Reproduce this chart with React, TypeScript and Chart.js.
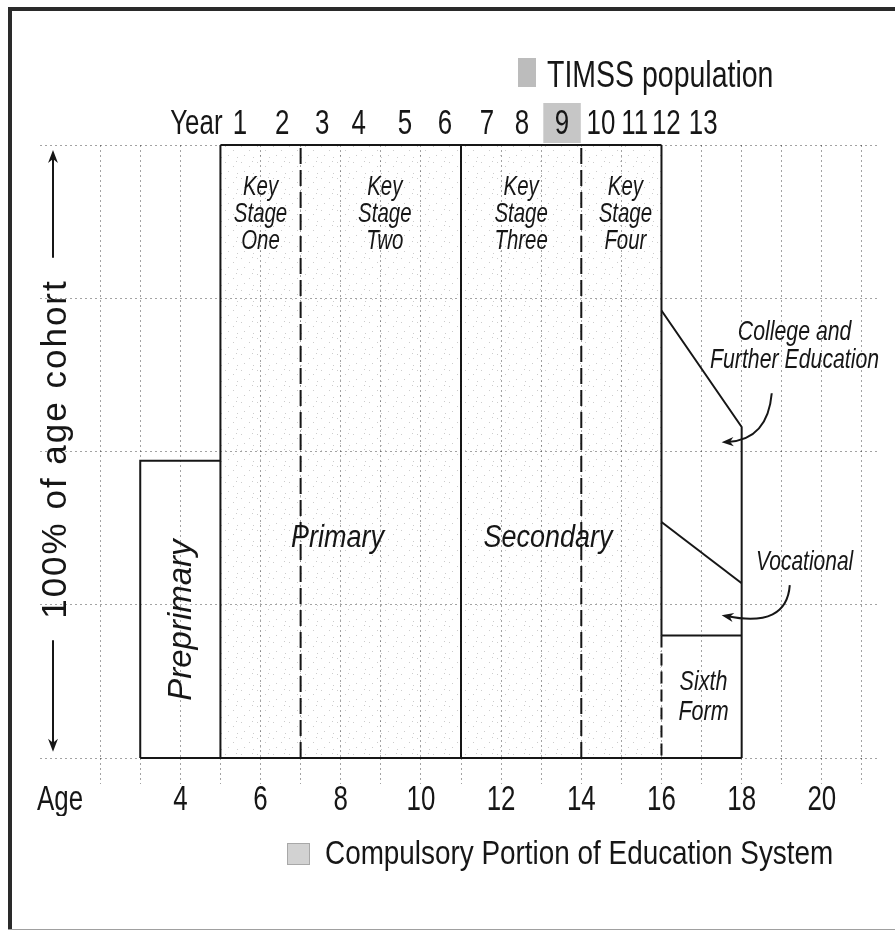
import React, { useEffect, useRef } from 'react';
import { Chart, registerables } from 'chart.js';

Chart.register(...registerables);

// ---------- data ----------
const AGE_TICKS = [1, 2, 3, 4, 5, 6, 7, 8, 9, 10, 11, 12, 13, 14, 15, 16, 17, 18, 19, 20, 21];
const AGE_LABELS = ['Age', '', '', '4', '', '6', '', '8', '', '10', '', '12', '', '14', '', '16', '', '18', '', '20', ''];
const YEAR_LABELS = ['Year', '1', '2', '3', '4', '5', '6', '7', '8', '9', '10', '11', '12', '13'];
const YEAR_AGES = [4.4, 5.49, 6.54, 7.54, 8.45, 9.6, 10.6, 11.65, 12.52, 13.52, 14.49, 15.33, 16.12, 17.04];
const TIMSS_YEAR = '9';

const PREPRIMARY_AGES = [3, 5];
const PREPRIMARY_SHARE = 48.5;
const COMPULSORY_AGES = [5, 16];
const SOLID_BOUNDARY_AGES = [5, 11];
const DASHED_BOUNDARY_AGES = [7, 14];
const POST16_AGES = [16, 18];
const COLLEGE_TOP = [73, 54];
const VOCATIONAL_TOP = [38.5, 28.5];
const SIXTH_FORM_TOP = [20, 20];

const KEY_STAGE_NAMES = ['One', 'Two', 'Three', 'Four'];
const KEY_STAGE_LABEL_AGES = [6, 9.1, 12.5, 15.1];
const SECTOR_NAMES = ['Primary', 'Secondary'];
const SECTOR_LABEL_AGES = [7.92, 13.17];

// ---------- styles ----------
const INK = '#161616';
const GRID = 'rgba(0,0,0,0.36)';
const SANS = "'Liberation Sans', Arial, Helvetica, sans-serif";
const TICK_CONDENSE = 0.74;

function makeStipple(): CanvasPattern | string {
  const c = document.createElement('canvas');
  c.width = 16;
  c.height = 16;
  const g = c.getContext('2d');
  if (!g) return 'rgba(0,0,0,0.03)';
  g.fillStyle = 'rgba(0,0,0,0.2)';
  [[1, 2], [9, 6], [4, 11], [13, 13], [12, 1]].forEach(([a, b]) => g.fillRect(a, b, 1, 1));
  const p = g.createPattern(c, 'repeat');
  return p || 'rgba(0,0,0,0.03)';
}

function arrowHead(ctx: CanvasRenderingContext2D, x: number, y: number, angle: number, size = 12) {
  ctx.save();
  ctx.translate(x, y);
  ctx.rotate(angle);
  ctx.beginPath();
  ctx.moveTo(0, 0);
  ctx.lineTo(-size, -size * 0.38);
  ctx.lineTo(-size * 0.7, 0);
  ctx.lineTo(-size, size * 0.38);
  ctx.closePath();
  ctx.fill();
  ctx.restore();
}

// condensed text: draw at a fraction of natural width (mimics Helvetica Condensed)
function ctext(ctx: CanvasRenderingContext2D, t: string, x: number, y: number, f: number) {
  ctx.fillText(t, x, y, ctx.measureText(t).width * f);
}

const decorPlugin = {
  id: 'decor',
  beforeDraw(chart: any) {
    const { ctx, width, height } = chart;
    ctx.save();
    ctx.fillStyle = '#ffffff';
    ctx.fillRect(0, 0, width, height);
    ctx.fillStyle = '#2a2a2a';
    ctx.fillRect(8, 7, width - 8, 4);
    ctx.fillRect(8, 7, 4, height - 9);
    ctx.fillStyle = '#a0a0a0';
    ctx.fillRect(8, height - 3, width - 8, 1);
    ctx.restore();
  },
  afterDraw(chart: any) {
    const { ctx, chartArea } = chart;
    const xs = chart.scales.x;
    const ys = chart.scales.y;
    const px = (a: number) => xs.getPixelForValue(a);
    const py = (p: number) => ys.getPixelForValue(p);
    ctx.save();
    ctx.fillStyle = INK;
    ctx.strokeStyle = INK;
    ctx.textAlign = 'center';
    ctx.textBaseline = 'alphabetic';

    // Key stage labels
    ctx.font = `italic 28px ${SANS}`;
    KEY_STAGE_NAMES.forEach((name, i) => {
      const cx = px(KEY_STAGE_LABEL_AGES[i]);
      const base = py(91.8);
      ['Key', 'Stage', name].forEach((t, j) => ctext(ctx, t, cx, base + j * 27, 0.73));
    });

    // Primary / Secondary
    ctx.font = `italic 31px ${SANS}`;
    SECTOR_NAMES.forEach((name, i) => ctext(ctx, name, px(SECTOR_LABEL_AGES[i]), py(34.4), 0.87));

    // Post-16 labels
    ctx.font = `italic 28px ${SANS}`;
    ctext(ctx, 'College and', px(19.32), py(68.2), 0.76);
    ctext(ctx, 'Further Education', px(19.32), py(68.2) + 28, 0.76);
    ctext(ctx, 'Vocational', px(19.57), py(30.7), 0.75);
    ctext(ctx, 'Sixth', px(17.05), py(11.1), 0.77);
    ctext(ctx, 'Form', px(17.05), py(11.1) + 30, 0.77);

    // Preprimary (rotated)
    ctx.save();
    ctx.translate(px(4) + 11, py(22.5));
    ctx.rotate(-Math.PI / 2);
    ctx.font = `italic 33px ${SANS}`;
    ctext(ctx, 'Preprimary', 0, 0, 1);
    ctx.restore();

    // Y-axis label with arrows
    const ax = chartArea.left + 13;
    ctx.save();
    ctx.translate(chartArea.left + 26, (py(81.6) + py(19.2)) / 2);
    ctx.rotate(-Math.PI / 2);
    ctx.font = `35px ${SANS}`;
    try { (ctx as any).letterSpacing = '2px'; } catch (e) { /* ignore */ }
    ctext(ctx, '100% of age cohort', 0, 0, 1);
    try { (ctx as any).letterSpacing = '0px'; } catch (e) { /* ignore */ }
    ctx.restore();
    ctx.lineWidth = 2;
    ctx.beginPath();
    ctx.moveTo(ax, py(81.6));
    ctx.lineTo(ax, py(99.2) + 6);
    ctx.moveTo(ax, py(19.2));
    ctx.lineTo(ax, py(1) - 6);
    ctx.stroke();
    arrowHead(ctx, ax, py(99.2), -Math.PI / 2, 13);
    arrowHead(ctx, ax, py(1), Math.PI / 2, 13);

    // Curved pointer arrows
    const curves = [
      [[18.75, 59.5], [18.65, 51.9], [17.5, 51.5]],
      [[19.2, 28.2], [19.12, 21.2], [17.5, 23.3]],
    ];
    ctx.lineWidth = 2;
    curves.forEach(([s, c, e]) => {
      const sx = px(s[0]), sy = py(s[1]);
      const cx = px(c[0]), cy = py(c[1]);
      const ex = px(e[0]), ey = py(e[1]);
      const ang = Math.atan2(ey - cy, ex - cx);
      ctx.beginPath();
      ctx.moveTo(sx, sy);
      ctx.quadraticCurveTo(cx, cy, ex - Math.cos(ang) * 6, ey - Math.sin(ang) * 6);
      ctx.stroke();
      arrowHead(ctx, ex, ey, ang, 12);
    });

    // Legends
    ctx.textAlign = 'left';
    ctx.fillStyle = '#bcbcbc';
    ctx.fillRect(518, 58, 18, 29);
    ctx.fillStyle = INK;
    ctx.font = `37px ${SANS}`;
    ctext(ctx, 'TIMSS population', 547, 87, 0.77);

    ctx.fillStyle = '#d2d2d2';
    ctx.fillRect(287, 843, 23, 22);
    ctx.strokeStyle = '#a8a8a8';
    ctx.lineWidth = 1;
    ctx.strokeRect(287.5, 843.5, 22, 21);
    ctx.fillStyle = INK;
    ctx.font = `34px ${SANS}`;
    ctext(ctx, 'Compulsory Portion of Education System', 325, 864, 0.82);
    ctx.restore();
  },
};

function seg(ages: number[], vals: number[]) {
  return ages.map((a, i) => ({ x: a, y: vals[i] }));
}

export default function App() {
  const ref = useRef<HTMLCanvasElement | null>(null);

  useEffect(() => {
    const canvas = ref.current;
    if (!canvas) return;
    const c2d = canvas.getContext('2d') as any;
    if (c2d && !c2d.__condensed) {
      const orig = CanvasRenderingContext2D.prototype.fillText;
      c2d.fillText = function (t: string, x: number, y: number, mw?: number) {
        const w = mw === undefined ? this.measureText(t).width * TICK_CONDENSE : mw;
        orig.call(this, t, x, y, Math.max(w, 0.01));
      };
      c2d.__condensed = true;
    }
    const stipple = makeStipple();
    const line = (data: { x: number; y: number }[], dash: number[] = [], extra: any = {}) => ({
      data,
      showLine: true,
      pointRadius: 0,
      borderColor: INK,
      borderWidth: 2,
      borderDash: dash,
      fill: false,
      clip: false,
      tension: 0,
      ...extra,
    });

    const datasets: any[] = [
      line(seg(COMPULSORY_AGES, [100, 100]), [], { fill: 'origin', backgroundColor: stipple }),
      line([
        { x: PREPRIMARY_AGES[0], y: 0 },
        { x: PREPRIMARY_AGES[0], y: PREPRIMARY_SHARE },
        { x: PREPRIMARY_AGES[1], y: PREPRIMARY_SHARE },
      ]),
      ...SOLID_BOUNDARY_AGES.map((a) => line(seg([a, a], [0, 100]))),
      ...DASHED_BOUNDARY_AGES.map((a) => line(seg([a, a], [0, 100]), [16, 6])),
      line(seg([POST16_AGES[0], POST16_AGES[0]], [100, SIXTH_FORM_TOP[0]])),
      line(seg([POST16_AGES[0], POST16_AGES[0]], [SIXTH_FORM_TOP[0], 0]), [12, 6]),
      line(seg([PREPRIMARY_AGES[0], POST16_AGES[1]], [0, 0])),
      line([...seg(POST16_AGES, COLLEGE_TOP), { x: POST16_AGES[1], y: 0 }]),
      line(seg(POST16_AGES, VOCATIONAL_TOP)),
      line(seg(POST16_AGES, SIXTH_FORM_TOP)),
    ];

    const tickColor = (c: any) => (c.tick && c.tick.value >= 2 ? GRID : 'rgba(0,0,0,0)');

    const chart = new Chart(canvas, {
      type: 'scatter',
      data: { datasets },
      plugins: [decorPlugin],
      options: {
        responsive: false,
        animation: false,
        events: [],
        layout: { padding: { left: 40, right: 15, top: 103, bottom: 116 } },
        plugins: { legend: { display: false }, tooltip: { enabled: false } },
        scales: {
          x: {
            type: 'linear',
            position: 'bottom',
            min: 0.5,
            max: 21.45,
            afterBuildTicks: (s: any) => {
              s.ticks = AGE_TICKS.map((v) => ({ value: v }));
            },
            ticks: {
              autoSkip: false,
              maxRotation: 0,
              padding: -5,
              color: INK,
              font: { family: SANS, size: 35 },
              callback: (v: any) => {
                const i = AGE_TICKS.indexOf(Number(v));
                return i >= 0 ? AGE_LABELS[i] : '';
              },
            },
            grid: { color: tickColor, tickColor: tickColor, tickLength: 26, lineWidth: 1, tickBorderDash: [2, 3] },
            border: { display: false, dash: [2, 3] },
          },
          x2: {
            type: 'linear',
            position: 'top',
            min: 0.5,
            max: 21.45,
            afterBuildTicks: (s: any) => {
              s.ticks = YEAR_AGES.map((v) => ({ value: v }));
            },
            ticks: {
              autoSkip: false,
              maxRotation: 0,
              padding: 0,
              color: INK,
              font: { family: SANS, size: 35 },
              showLabelBackdrop: true,
              backdropColor: (c: any) => (YEAR_LABELS[c.index] === TIMSS_YEAR ? '#c6c6c6' : 'rgba(0,0,0,0)'),
              backdropPadding: { top: 1, bottom: -2, left: 9, right: 9 },
              callback: (_v: any, i: number) => YEAR_LABELS[i],
            },
            grid: { display: false, drawTicks: false },
            border: { display: false },
          },
          y: {
            type: 'linear',
            min: 0,
            max: 100,
            afterBuildTicks: (s: any) => {
              s.ticks = [0, 25, 50, 75, 100].map((v) => ({ value: v }));
            },
            ticks: { display: false },
            grid: { color: GRID, drawTicks: false, lineWidth: 1 },
            border: { display: false, dash: [2, 3] },
          },
        },
      },
    } as any);

    return () => chart.destroy();
  }, []);

  return (
    <div style={{ position: 'absolute', left: 0, top: 0, width: 895, height: 932, background: '#fff' }}>
      <canvas ref={ref} width={895} height={932} style={{ display: 'block' }} />
    </div>
  );
}
